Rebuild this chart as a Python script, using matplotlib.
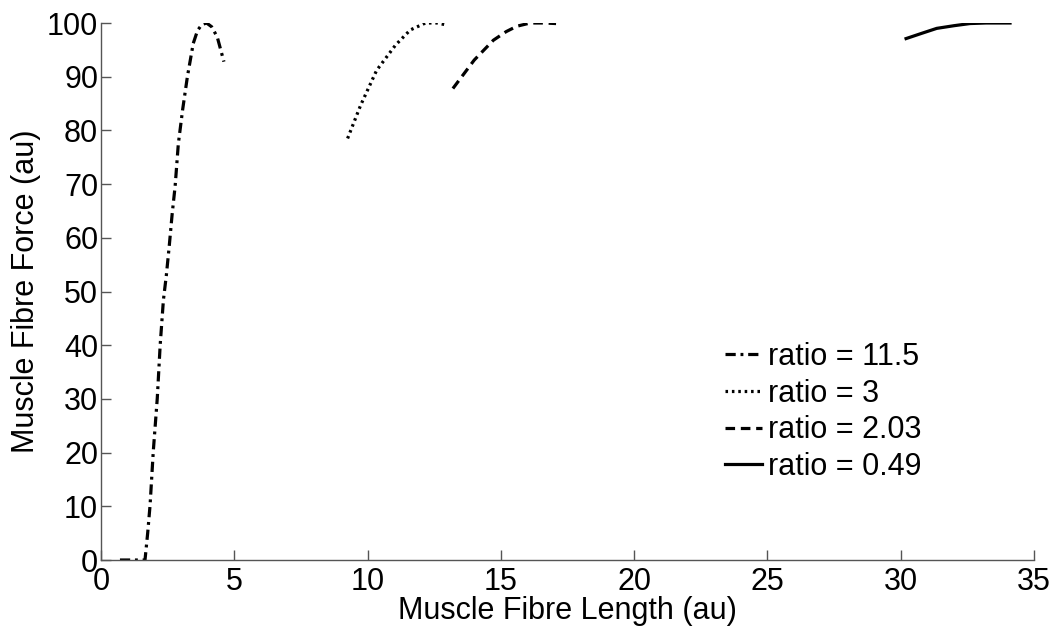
import matplotlib
matplotlib.use("Agg")
import matplotlib.pyplot as plt

plt.rcParams['font.family'] = ['Liberation Sans', 'DejaVu Sans']

# Data
x_r115 = [0.71, 1.65, 1.75, 1.84, 1.96, 2.11, 2.22, 2.34, 2.45, 2.56, 2.67, 2.78, 2.90, 3.06, 3.24, 3.46, 3.62, 3.78, 3.96, 4.15, 4.36, 4.61]
y_r115 = [0.0, 0.0, 5.0, 10.2, 20.2, 30.1, 40.1, 48.4, 53.0, 58.5, 64.5, 69.6, 77.5, 83.8, 90.0, 96.2, 98.6, 99.7, 100.0, 99.3, 97.4, 92.8]

x_r3 = [9.25, 9.74, 10.34, 11.05, 11.60, 12.17, 12.60, 13.00]
y_r3 = [78.5, 84.7, 91.2, 95.9, 98.7, 100.0, 100.0, 99.6]

x_r203 = [13.20, 14.00, 14.72, 15.20, 15.60, 16.10, 16.60, 17.07]
y_r203 = [87.8, 93.1, 96.8, 98.4, 99.4, 100.0, 100.0, 99.9]

x_r049 = [30.20, 30.80, 31.35, 32.00, 32.60, 33.20, 34.10]
y_r049 = [97.1, 98.1, 99.0, 99.5, 99.9, 100.0, 100.0]

labels = ['ratio = 11.5', 'ratio = 3', 'ratio = 2.03', 'ratio = 0.49']
xticks = [0, 5, 10, 15, 20, 25, 30, 35]
yticks = [0, 10, 20, 30, 40, 50, 60, 70, 80, 90, 100]

fig = plt.figure(figsize=(10.6, 6.32), dpi=100)
ax = fig.add_axes([0.0953, 0.1139, 0.8802, 0.8497])

lw = 2.3
ax.plot(x_r115, y_r115, color='black', lw=lw, dashes=(3.2, 1.5, 0.9, 1.5), label=labels[0])
ax.plot(x_r3, y_r3, color='black', lw=lw, dashes=(0.8, 1.2), label=labels[1])
ax.plot(x_r203, y_r203, color='black', lw=lw, dashes=(3.0, 1.8), label=labels[2])
ax.plot(x_r049, y_r049, color='black', lw=lw, label=labels[3])

FS = 22
ax.set_xlim(0, 35)
ax.set_ylim(0, 100)
ax.set_xticks(xticks)
ax.set_yticks(yticks)
ax.spines['top'].set_visible(False)
ax.spines['right'].set_visible(False)
for s in ['left', 'bottom']:
    ax.spines[s].set_color('#555555')
    ax.spines[s].set_linewidth(1.0)
ax.tick_params(direction='in', length=7, width=1, colors='#555555', labelcolor='black',
               labelsize=FS)
ax.tick_params(axis='y', pad=2)
ax.tick_params(axis='x', pad=5)
ax.set_xlabel('Muscle Fibre Length (au)', fontsize=FS, labelpad=-1)
ax.set_ylabel('Muscle Fibre Force (au)', fontsize=FS, labelpad=4)

leg = ax.legend(loc='upper left', bbox_to_anchor=(0.669, 0.406), frameon=False, fontsize=FS,
                handlelength=1.2, handletextpad=0.2, labelspacing=0.22, borderaxespad=0,
                borderpad=0)

fig.savefig('out.png', dpi=100)
